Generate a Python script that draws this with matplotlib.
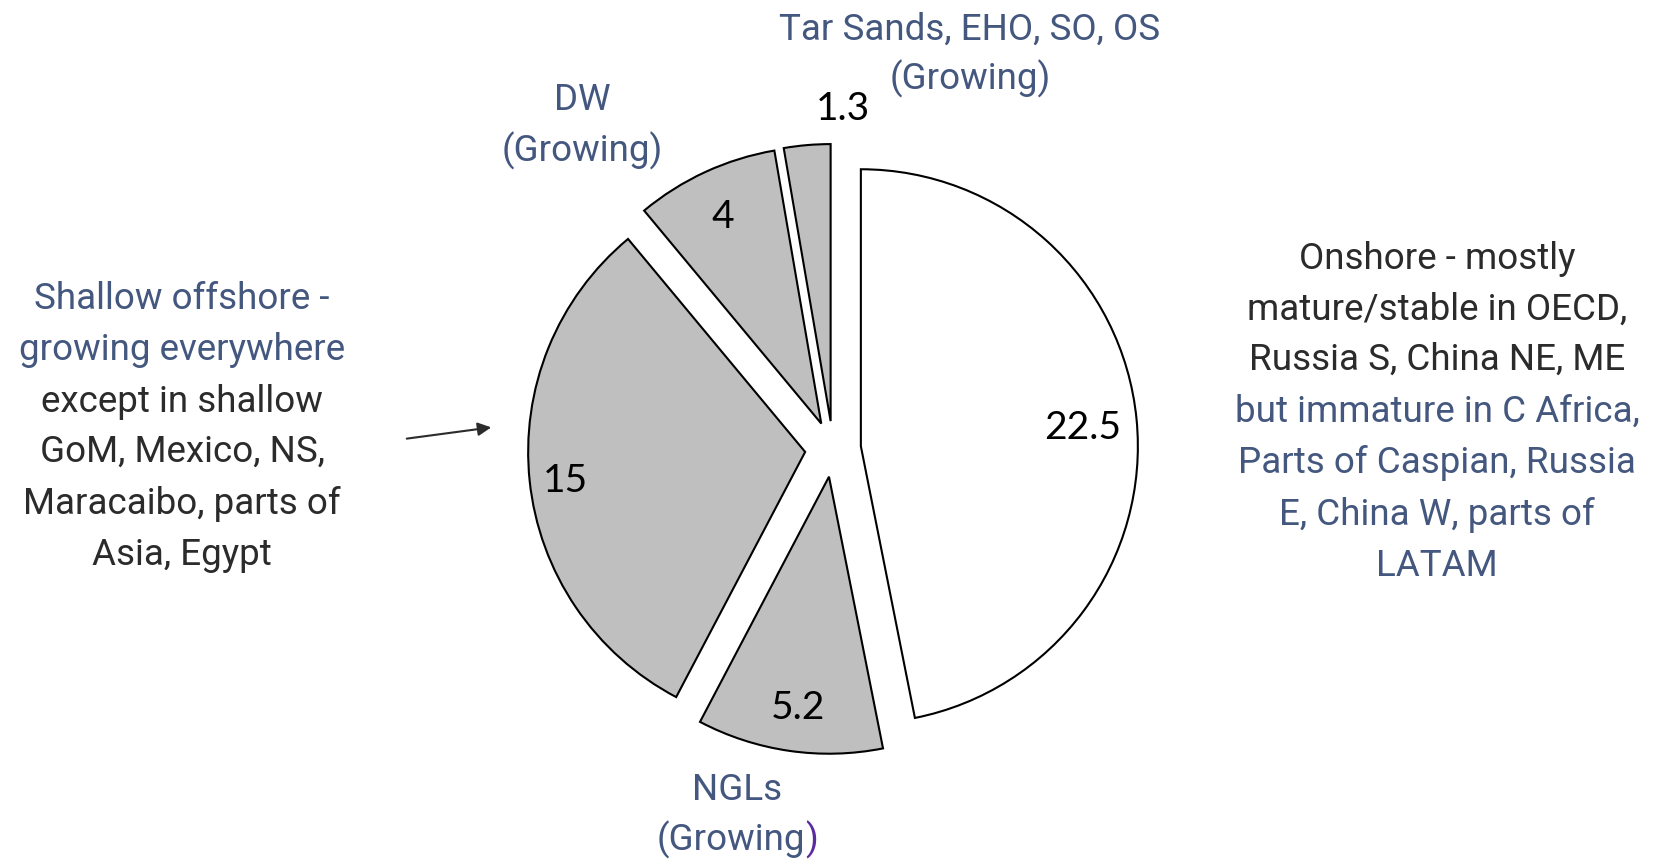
import matplotlib
matplotlib.use("Agg")
import matplotlib.pyplot as plt

# slice data, clockwise from 12 o'clock
values = [22.5, 5.2, 15, 4, 1.3]
value_labels = ["22.5", "5.2", "15", "4", "1.3"]
fills = ["white", "#bfbfbf", "#bfbfbf", "#bfbfbf", "#bfbfbf"]

left_lines = ["Shallow offshore -", "growing everywhere", "except in shallow",
              "GoM, Mexico, NS,", "Maracaibo, parts of", "Asia, Egypt"]
left_blue = 2
right_lines = ["Onshore - mostly", "mature/stable in OECD,", "Russia S, China NE, ME",
               "but immature in C Africa,", "Parts of Caspian, Russia",
               "E, China W, parts of", "LATAM"]
right_dark = 3

BLUE = "#44577f"
DARK = "#2b2b2b"
NARROW = ["Roboto", "DejaVu Sans"]
NUMF = ["Lato", "DejaVu Sans"]
TS = 26.5

W, H = 1657, 863
fig = plt.figure(figsize=(W / 100, H / 100), dpi=100)
ax = fig.add_axes([0, 0, 1, 1])

cx, cy, r = 833, H - 449, 277
wedges, _ = ax.pie(values, startangle=90, counterclock=False, explode=[28] * 5,
                   radius=r, center=(cx, cy), colors=fills, frame=True,
                   wedgeprops=dict(edgecolor="black", linewidth=1.5))
ax.set_xlim(0, W)
ax.set_ylim(0, H)
ax.set_aspect("equal")
ax.axis("off")

num_pos = [(1083, 428), (798, 708), (565, 481), (723, 217), (843, 109)]
for lab, (x, y) in zip(value_labels, num_pos):
    ax.text(x, H - y, lab, ha="center", va="center", fontsize=28,
            family=NUMF, color="black")

ys = [299, 350, 402, 452, 504, 555]
for i, (t, y) in enumerate(zip(left_lines, ys)):
    ax.text(182, H - y, t, ha="center", va="center", fontsize=TS,
            family=NARROW, color=BLUE if i < left_blue else DARK)

ys = [259, 310, 360, 412, 463, 515, 566]
for i, (t, y) in enumerate(zip(right_lines, ys)):
    ax.text(1437, H - y, t, ha="center", va="center", fontsize=TS,
            family=NARROW, color=DARK if i < right_dark else BLUE)

for t, x, y in [("Tar Sands, EHO, SO, OS", 970, 30), ("(Growing)", 970, 79),
                ("DW", 582, 100), ("(Growing)", 582, 151),
                ("NGLs", 737, 790)]:
    ax.text(x, H - y, t, ha="center", va="center", fontsize=TS,
            family=NARROW, color=BLUE)

# NGLs "(Growing)" with a purple closing bracket, as in the original
tmp_full = ax.text(737, H - 840, "(Growing)", ha="center", va="center",
                   fontsize=TS, family=NARROW)
tmp_par = ax.text(737, H - 840, ")", ha="center", va="center",
                  fontsize=TS, family=NARROW)
fig.canvas.draw()
inv = ax.transData.inverted()
bf = tmp_full.get_window_extent().transformed(inv)
bp = tmp_par.get_window_extent().transformed(inv)
tmp_full.remove()
tmp_par.remove()
xj = bf.x1 - bp.width
ax.text(xj, H - 840, "(Growing", ha="right", va="center", fontsize=TS,
        family=NARROW, color=BLUE)
ax.text(xj, H - 840, ")", ha="left", va="center", fontsize=TS,
        family=NARROW, color="#5a2ca0")

ax.annotate("", xy=(494, H - 427), xytext=(404, H - 439),
            arrowprops=dict(arrowstyle="-|>", color=DARK, lw=1.5,
                            mutation_scale=20))

fig.savefig("out.png", dpi=100)
